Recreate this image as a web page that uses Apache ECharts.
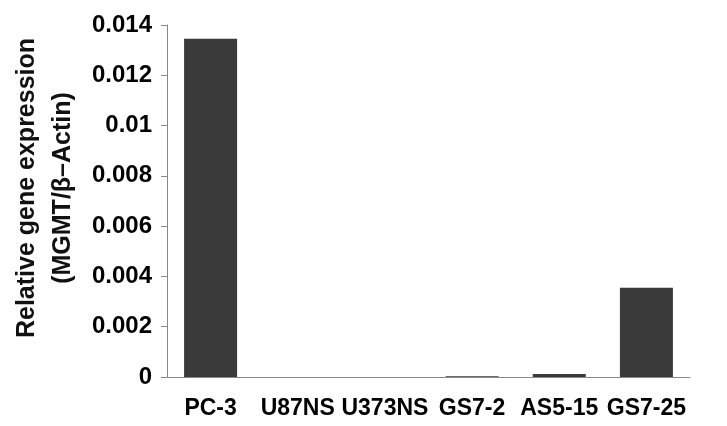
<!DOCTYPE html>
<html lang="en">
<head>
    <meta charset="UTF-8">
    <title>MGMT expression</title>
    <style>
        html, body { margin: 0; padding: 0; background: #fff; }
        #chart { width: 727px; height: 426px; }
    </style>
    <script src="https://cdn.jsdelivr.net/npm/echarts@6/dist/echarts.min.js"></script>
</head>
<body>
<div id="chart"></div>
<script>
    // cell lines along the x axis
    var cellLines = ['PC-3', 'U87NS', 'U373NS', 'GS7-2', 'AS5-15', 'GS7-25'];
    // relative MGMT / beta-actin expression
    var expression = [0.01345, 0, 0, 0.00003, 0.00012, 0.00355];
    var yMin = 0, yMax = 0.014, yStep = 0.002;

    var myChart = echarts.init(document.getElementById('chart'));
    var font = 'Liberation Sans, Arial, Helvetica, sans-serif';
    var option = {
        backgroundColor: '#fff',
        animation: false,
        grid: {
            left: 167,
            right: 37,
            top: 25,
            bottom: 49,
            containLabel: false,
            outerBoundsMode: 'none'
        },
        xAxis: {
            type: 'category',
            data: cellLines,
            axisLine: { lineStyle: { color: '#888', width: 1 } },
            axisTick: { length: 7, lineStyle: { color: '#888' } },
            axisLabel: {
                margin: 20,
                color: '#000',
                fontFamily: font,
                fontWeight: 'bold',
                fontSize: 23,
                interval: 0
            }
        },
        yAxis: {
            type: 'value',
            min: yMin,
            max: yMax,
            interval: yStep,
            name: 'Relative gene expression\n(MGMT/\u03b2\u2013Actin)',
            nameLocation: 'middle',
            nameRotate: 90,
            nameGap: 86,
            nameTextStyle: {
                color: '#111',
                fontFamily: font,
                fontWeight: 'bold',
                fontSize: 25,
                lineHeight: 36,
                padding: [0, 0, 0, 26]
            },
            splitLine: { show: false },
            axisLine: { show: true, lineStyle: { color: '#888', width: 1 } },
            axisTick: { show: true, length: 6, lineStyle: { color: '#888' } },
            axisLabel: {
                margin: 15,
                color: '#000',
                fontFamily: font,
                fontWeight: 'bold',
                fontSize: 24
            }
        },
        series: [{
            type: 'bar',
            data: expression,
            barWidth: 53,
            itemStyle: {
                color: '#3a3a3a'
            }
        }]
    };
    myChart.setOption(option);
</script>
</body>
</html>
